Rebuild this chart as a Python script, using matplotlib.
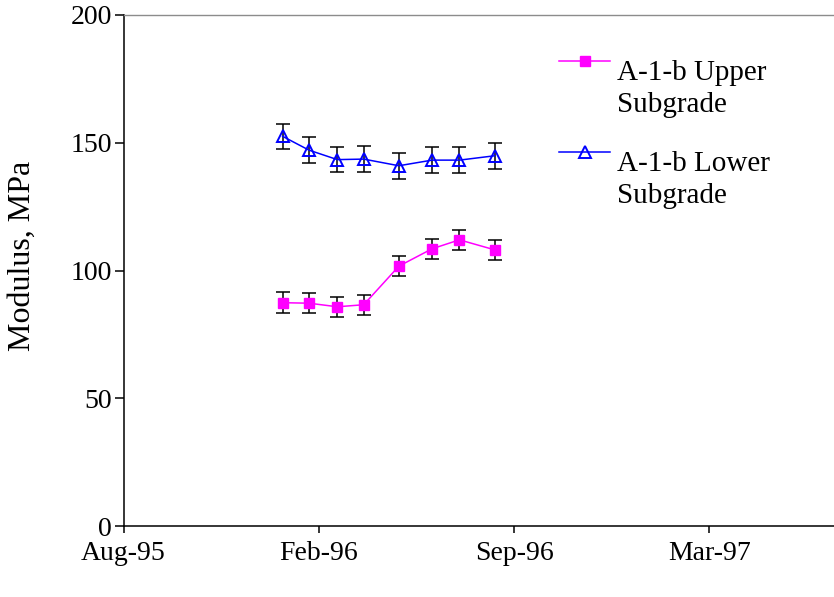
import numpy as np
import pandas as pd
import matplotlib
matplotlib.use('Agg')
import matplotlib.pyplot as plt
import matplotlib.dates as mdates
from matplotlib.lines import Line2D
from matplotlib.legend_handler import HandlerLine2D

plt.rcParams['font.family'] = ['Liberation Serif', 'DejaVu Serif']

# survey dates and back-calculated moduli (MPa)
dates = ['1996-01-19', '1996-02-15', '1996-03-15', '1996-04-11',
         '1996-05-17', '1996-06-20', '1996-07-18', '1996-08-23']
upper = [87.4, 87.2, 85.8, 86.6, 101.7, 108.5, 112.0, 108.1]
upper_err = [4, 4, 4, 4, 4, 4, 4, 4]
lower = [152.5, 147.1, 143.4, 143.6, 141.0, 143.2, 143.2, 144.9]
lower_err = [5, 5, 5, 5, 5, 5, 5, 5]
labels = ['A-1-b Upper', 'Subgrade', ' ', 'A-1-b Lower', 'Subgrade']

x = mdates.date2num(pd.to_datetime(dates))
x0 = mdates.date2num(pd.Timestamp('1995-08-09'))


class RaisedLine(HandlerLine2D):
    # put the legend key level with the top of the first text line
    def create_artists(self, legend, orig_handle, xdescent, ydescent,
                       width, height, fontsize, trans):
        arts = super().create_artists(legend, orig_handle, xdescent, ydescent,
                                      width, height, fontsize, trans)
        for a in arts:
            a.set_ydata(np.asarray(a.get_ydata()) + 0.3 * fontsize)
        return arts


fig = plt.figure(figsize=(8.34, 5.97), dpi=100)
ax = fig.add_axes([123.5 / 834, 71 / 597, (834 - 123.5) / 834, 511 / 597])

ax.errorbar(x, upper, yerr=upper_err, fmt='none', ecolor='black',
            elinewidth=1.1, capsize=5, capthick=1.1, zorder=2)
ax.errorbar(x, lower, yerr=lower_err, fmt='none', ecolor='black',
            elinewidth=1.1, capsize=5, capthick=1.1, zorder=2)
l1, = ax.plot(x, upper, color='#FF00FF', lw=1.1, marker='s', ms=7.5,
              mec='#FF00FF', mfc='#FF00FF', zorder=3)
l2, = ax.plot(x, lower, color='#0000FF', lw=1.1, marker='^', ms=9,
              mec='#0000FF', mfc='none', mew=1.4, zorder=3)

ax.set_ylim(0, 200)
ax.set_yticks([0, 50, 100, 150, 200])
ax.set_xlim(x0, x0 + 727.6)
ax.set_xticks(x0 + np.array([0, 200, 400, 600]))
ax.xaxis.set_major_formatter(mdates.DateFormatter('%b-%y'))

for s in ['left', 'bottom']:
    ax.spines[s].set_linewidth(1.1)
ax.spines['right'].set_visible(False)
ax.spines['top'].set_color('#8c8c8c')
ax.spines['top'].set_linewidth(1.0)
ax.tick_params(axis='y', direction='out', length=6.5, width=1.1, labelsize=20, pad=2)
ax.tick_params(axis='x', direction='out', length=5, width=1.1, labelsize=20, pad=6)
ax.set_ylabel('Modulus, MPa', fontsize=23)
ax.yaxis.set_label_coords(-0.122, 0.528)

blank = Line2D([], [], color='none')
leg = fig.legend([l1, blank, blank, l2, blank], labels,
                 loc='upper left', bbox_to_anchor=(559 / 834, 1 - 60 / 597),
                 frameon=False, fontsize=21, handlelength=1.75,
                 handletextpad=0.25, labelspacing=0.18, borderpad=0,
                 borderaxespad=0, handler_map={Line2D: RaisedLine()})
leg.get_texts()[2].set_fontsize(8)

fig.savefig('out.png', dpi=100)
